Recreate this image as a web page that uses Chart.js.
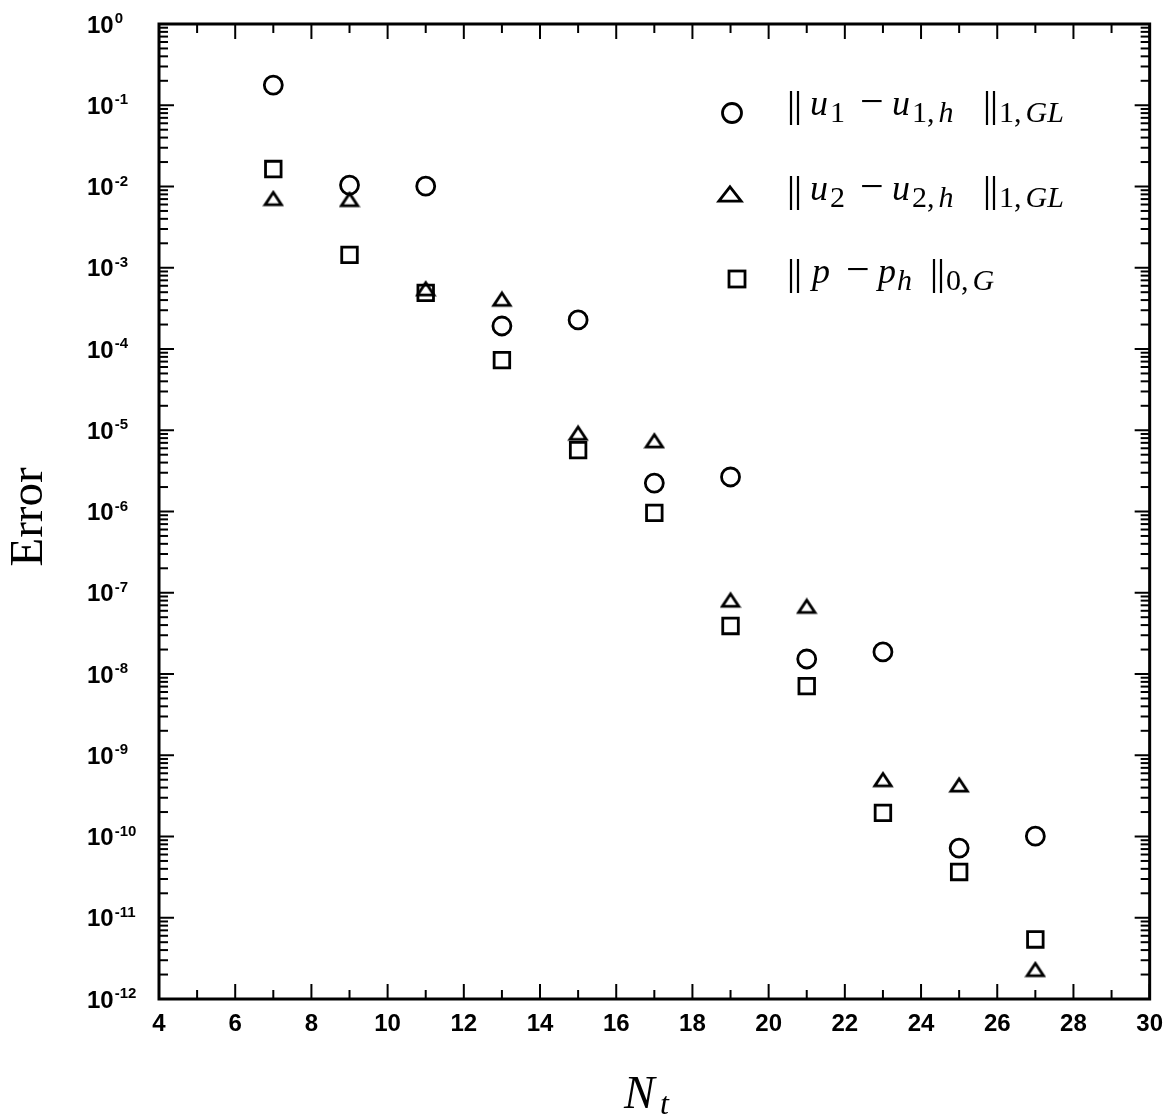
<!DOCTYPE html>
<html>
<head>
<meta charset="utf-8">
<title>Error x Nt</title>
<script src="https://cdn.jsdelivr.net/npm/chart.js@4.4.1/dist/chart.umd.min.js"></script>
<style>
  html, body { margin: 0; padding: 0; background: #fff; }
  #wrap { width: 1174px; height: 1119px; position: relative; }
</style>
</head>
<body>
<div id="wrap"><canvas id="grafico"></canvas></div>
<script>
// Valores (escala log no eixo y)
const nt = [7, 9, 11, 13, 15, 17, 19, 21, 23, 25, 27];
const erroU1 = [1.77e-1, 1.04e-2, 1.01e-2, 1.92e-4, 2.28e-4, 2.24e-6, 2.66e-6, 1.53e-8, 1.87e-8, 7.2e-11, 1.01e-10];
const erroU2 = [7.1e-3, 6.9e-3, 5.5e-4, 4.1e-4, 9.2e-6, 7.4e-6, 8.1e-8, 6.8e-8, 5.0e-10, 4.3e-10, 2.3e-12];
const erroP  = [1.64e-2, 1.44e-3, 4.9e-4, 7.3e-5, 5.7e-6, 9.6e-7, 3.9e-8, 7.1e-9, 1.95e-10, 3.66e-11, 5.4e-12];

const ticksX = [4, 6, 8, 10, 12, 14, 16, 18, 20, 22, 24, 26, 28, 30];
const expoentesY = [0, -1, -2, -3, -4, -5, -6, -7, -8, -9, -10, -11, -12];

const SANS = '"Liberation Sans", Arial, sans-serif';
const SERIF = '"Liberation Serif", "Times New Roman", serif';

// triângulo vazado centrado (o do Chart.js fica deslocado para cima)
function criarTriangulo(w, h, lw) {
    const c = document.createElement('canvas');
    c.width = w + lw * 2;
    c.height = h + lw * 2;
    const g = c.getContext('2d');
    g.strokeStyle = '#000';
    g.lineWidth = lw;
    g.beginPath();
    g.moveTo(c.width / 2, lw);
    g.lineTo(c.width - lw, c.height - lw);
    g.lineTo(lw, c.height - lw);
    g.closePath();
    g.stroke();
    return c;
}
const triPlot = criarTriangulo(17, 13, 2.8);
const triLegenda = criarTriangulo(23, 15, 2.8);

function linha(ctx, x1, y1, x2, y2) {
    ctx.beginPath();
    ctx.moveTo(x1, y1);
    ctx.lineTo(x2, y2);
    ctx.stroke();
}

// moldura, marcas dos eixos e rótulos 10^n
const eixosPlugin = {
    id: 'eixos',
    afterDraw(chart) {
        const { ctx, chartArea: a, scales: { x, y } } = chart;
        ctx.save();
        ctx.strokeStyle = '#000';
        ctx.fillStyle = '#000';

        ctx.lineWidth = 2;
        for (let e = -12; e <= 0; e++) {
            for (let k = 1; k <= 9; k++) {
                if (e === 0 && k > 1) break;
                const py = y.getPixelForValue(k * Math.pow(10, e));
                const len = k === 1 ? 15 : 9;
                linha(ctx, a.left, py, a.left + len, py);
                linha(ctx, a.right, py, a.right - len, py);
            }
        }
        for (let v = 4; v <= 30; v++) {
            const px = x.getPixelForValue(v);
            const len = v % 2 === 0 ? 15 : 9;
            linha(ctx, px, a.bottom, px, a.bottom - len);
            linha(ctx, px, a.top, px, a.top + len);
        }

        ctx.lineWidth = 3;
        ctx.strokeRect(a.left, a.top, a.right - a.left, a.bottom - a.top);

        // rótulos do eixo y
        ctx.textAlign = 'left';
        ctx.textBaseline = 'alphabetic';
        expoentesY.forEach(e => {
            const py = y.getPixelForValue(Math.pow(10, e));
            ctx.font = 'bold 24px ' + SANS;
            ctx.fillText('10', 87, py + 8.5);
            const w = ctx.measureText('10').width;
            ctx.font = 'bold 15px ' + SANS;
            ctx.fillText(e === 0 ? '0' : '-' + (-e), 87 + w + 1, py - 1);
        });

        // títulos
        ctx.font = '47px ' + SERIF;
        ctx.save();
        ctx.translate(42, 517);
        ctx.rotate(-Math.PI / 2);
        ctx.textAlign = 'center';
        ctx.fillText('Error', 0, 0);
        ctx.restore();

        ctx.font = 'italic 46px ' + SERIF;
        ctx.fillText('N', 624, 1108);
        ctx.font = 'italic 32px ' + SERIF;
        ctx.fillText('t', 660, 1114);

        ctx.restore();
    }
};

// legenda com as normas (texto matemático)
const MI = 'italic 36px ' + SERIF;
const S = '30px ' + SERIF, SI = 'italic 30px ' + SERIF;
const MENOS = '42px ' + SERIF;

function barras(ctx, x, base) {
    ctx.lineWidth = 2.2;
    linha(ctx, x + 2, base - 24, x + 2, base + 10);
    linha(ctx, x + 9, base - 24, x + 9, base + 10);
}
// desenha pedaços de texto em sequência; x fixo quando informado
function pedacos(ctx, base, lista) {
    let cx = 0;
    lista.forEach(p => {
        if (p.x !== undefined) cx = p.x;
        ctx.font = p.f;
        ctx.fillText(p.t, cx, base + (p.dy || 0));
        cx += ctx.measureText(p.t).width + (p.gap || 0);
    });
}

const legendaPlugin = {
    id: 'legendaNormas',
    afterDraw(chart) {
        const ctx = chart.ctx;
        ctx.save();
        ctx.strokeStyle = '#000';
        ctx.fillStyle = '#000';
        ctx.textAlign = 'left';
        ctx.textBaseline = 'alphabetic';

        // marcadores
        ctx.lineWidth = 2.8;
        ctx.beginPath();
        ctx.arc(732, 113, 9.5, 0, Math.PI * 2);
        ctx.stroke();
        ctx.drawImage(triLegenda, 730 - triLegenda.width / 2, 194 - triLegenda.height / 2);
        ctx.strokeRect(729, 271, 16, 16);

        // linhas 1 e 2: || u_i - u_{i,h} ||_{1,GL}
        [[115, '1'], [200, '2']].forEach(([b, i]) => {
            barras(ctx, 789, b);
            barras(ctx, 985, b);
            pedacos(ctx, b, [
                { t: 'u', f: MI, x: 810, gap: 2 },
                { t: i, f: S, dy: 7 },
                { t: '\u2212', f: MENOS, x: 860 },
                { t: 'u', f: MI, x: 892, gap: 2 },
                { t: i + ',', f: S, dy: 7, gap: 4 },
                { t: 'h', f: SI, dy: 7 },
                { t: '1,', f: S, dy: 7, x: 999, gap: 4 },
                { t: 'GL', f: SI, dy: 7 }
            ]);
        });

        // linha 3: || p - p_h ||_{0,G}
        const b = 283;
        barras(ctx, 789, b);
        barras(ctx, 932, b);
        pedacos(ctx, b, [
            { t: 'p', f: MI, x: 812 },
            { t: '\u2212', f: MENOS, x: 846 },
            { t: 'p', f: MI, x: 878, gap: 1 },
            { t: 'h', f: SI, dy: 7 },
            { t: '0,', f: S, dy: 7, x: 946, gap: 4 },
            { t: 'G', f: SI, dy: 7 }
        ]);

        ctx.restore();
    }
};

function pontos(valores) {
    return nt.map((n, i) => ({ x: n, y: valores[i] }));
}

const ctx = document.getElementById('grafico').getContext('2d');
new Chart(ctx, {
    type: 'scatter',
    data: {
        datasets: [
            {
                label: '|| u1 - u1,h ||1,GL',
                data: pontos(erroU1),
                pointStyle: 'circle',
                pointRadius: 9,
                borderColor: '#000',
                backgroundColor: 'rgba(0,0,0,0)',
                borderWidth: 2.8
            },
            {
                label: '|| u2 - u2,h ||1,GL',
                data: pontos(erroU2),
                pointStyle: triPlot,
                borderColor: '#000',
                backgroundColor: 'rgba(0,0,0,0)'
            },
            {
                label: '|| p - ph ||0,G',
                data: pontos(erroP),
                pointStyle: 'rect',
                pointRadius: 11,
                borderColor: '#000',
                backgroundColor: 'rgba(0,0,0,0)',
                borderWidth: 2.8
            }
        ]
    },
    options: {
        responsive: true,
        maintainAspectRatio: false,
        animation: false,
        layout: { padding: { top: 24, right: 22, left: 0, bottom: 0 } },
        plugins: { legend: { display: false }, tooltip: { enabled: false } },
        scales: {
            x: {
                type: 'linear',
                min: 4,
                max: 30,
                afterBuildTicks: s => { s.ticks = ticksX.map(v => ({ value: v })); },
                afterFit: s => { s.height = 120; },
                ticks: {
                    color: '#000',
                    padding: 11,
                    maxRotation: 0,
                    autoSkip: false,
                    font: { family: SANS, size: 24, weight: 'bold' }
                },
                grid: { display: false, drawTicks: false },
                border: { display: false }
            },
            y: {
                type: 'logarithmic',
                min: 1e-12,
                max: 1,
                afterFit: s => { s.width = 159; },
                ticks: { display: false },
                grid: { display: false, drawTicks: false },
                border: { display: false }
            }
        }
    },
    plugins: [eixosPlugin, legendaPlugin]
});
</script>
</body>
</html>
